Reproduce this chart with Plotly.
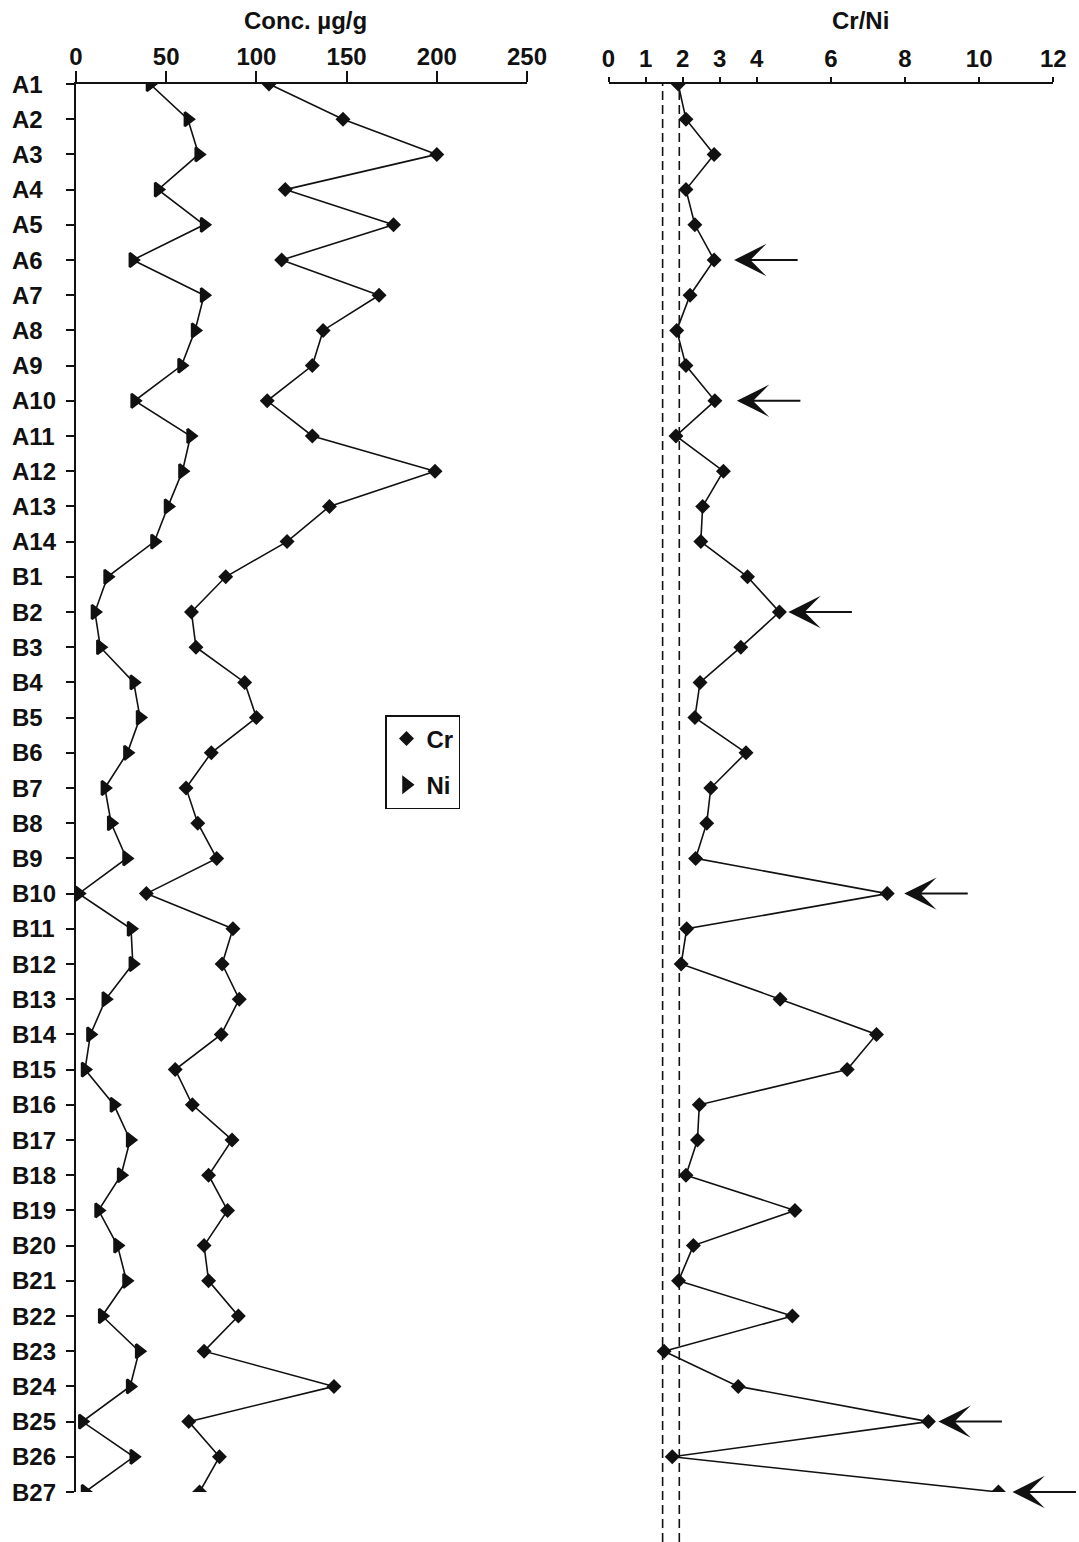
import plotly.graph_objects as go

# Sample codes, top to bottom
samples = [f"A{i}" for i in range(1, 15)] + [f"B{i}" for i in range(1, 28)]

# Chromium concentration (µg/g)
cr = [107, 148, 200, 116, 176, 114, 168, 137, 131, 106, 131, 199, 140.5, 117,
      83, 64, 66.5, 93.5, 100, 75, 61, 67.5, 78, 39, 87, 81, 90.5, 80.5,
      55, 64.5, 86.5, 73.5, 84, 71, 73.5, 90, 71, 143, 62.5, 79.5, 68.5]

# Nickel concentration (µg/g)
ni = [41, 62, 68, 45.5, 71, 31.5, 71, 66, 58.5, 32.5, 63.5, 59, 51, 43.5,
      17.5, 10.5, 13.5, 32, 35.5, 28.5, 16, 19.5, 28, 1.5, 30.5, 31.5, 16.5, 8,
      5, 21, 30, 25, 12.5, 23, 28, 14.5, 35, 30, 3.5, 32, 5]

# Cr/Ni ratio
ratio = [1.88, 2.09, 2.85, 2.09, 2.33, 2.85, 2.20, 1.84, 2.09, 2.87, 1.82, 3.10, 2.54, 2.49,
         3.75, 4.61, 3.57, 2.47, 2.33, 3.71, 2.76, 2.65, 2.35, 7.52, 2.11, 1.96, 4.63, 7.23,
         6.44, 2.45, 2.40, 2.09, 5.03, 2.29, 1.89, 4.96, 1.50, 3.50, 8.63, 1.72, 10.52]

# Reference band on the ratio panel
band = [1.46, 1.91]

# Samples flagged with an arrow (gap in px between point and arrow tip)
flagged = {"A6": 20, "A10": 22, "B2": 9, "B10": 17, "B25": 10, "B27": 14}

conc_ticks = [0, 50, 100, 150, 200, 250]
ratio_ticks = [0, 1, 2, 3, 4, 6, 8, 10, 12]

W, H = 1079, 1542
TOP, BOTTOM = 84, 50
FONT = "Liberation Sans"
INK = "#111111"
bold = dict(family=FONT, size=24, color=INK, weight="bold")

# Right-pointing triangle, thickened with an outline of the same colour
ni_marker = dict(symbol="triangle-right", size=12, color=INK,
                 line=dict(color=INK, width=2.5))

fig = go.Figure()

# Concentration panel: connecting lines, then markers
fig.add_trace(go.Scatter(x=cr, y=samples, mode="lines", line=dict(color=INK, width=1.6),
                         showlegend=False, xaxis="x", yaxis="y", hoverinfo="skip"))
fig.add_trace(go.Scatter(x=ni, y=samples, mode="lines", line=dict(color=INK, width=1.6),
                         showlegend=False, xaxis="x", yaxis="y", hoverinfo="skip"))
fig.add_trace(go.Scatter(x=cr, y=samples, mode="markers", name="Cr", legendgroup="cr",
                         marker=dict(symbol="diamond", size=11.5, color=INK),
                         xaxis="x", yaxis="y"))
fig.add_trace(go.Scatter(x=ni, y=samples, mode="markers", name="Ni", legendgroup="ni",
                         marker=ni_marker, xaxis="x", yaxis="y"))

# Ratio panel
fig.add_trace(go.Scatter(x=ratio, y=samples, mode="lines+markers",
                         line=dict(color=INK, width=1.6),
                         marker=dict(symbol="diamond", size=11.5, color=INK),
                         showlegend=False, xaxis="x2", yaxis="y2"))

plot_h = H - TOP - BOTTOM
for v in band:
    fig.add_shape(type="line", xref="x2", yref="paper", x0=v, x1=v,
                  y0=-BOTTOM / plot_h, y1=1,
                  line=dict(color=INK, width=1.6, dash="9px,5px"))

annotations = []
for name, gap in flagged.items():
    i = samples.index(name)
    annotations.append(dict(x=ratio[i], y=i, xref="x2", yref="y2", text="",
                            showarrow=True, arrowhead=3, arrowsize=2.7, arrowwidth=2,
                            arrowcolor=INK, ax=gap + 65, ay=0, standoff=gap))

# Sample labels, left-aligned beside the concentration axis
for i, name in enumerate(samples):
    annotations.append(dict(text=name, x=10 / W, y=i, xref="paper", yref="y",
                            xanchor="left", yanchor="middle", showarrow=False, font=bold))

title_y = 1 + (TOP - 20) / plot_h
annotations.append(dict(text="Conc. µg/g", x=305 / W, y=title_y, xref="paper", yref="paper",
                        xanchor="center", yanchor="middle", showarrow=False, font=bold))
annotations.append(dict(text="Cr/Ni", x=860 / W, y=title_y, xref="paper", yref="paper",
                        xanchor="center", yanchor="middle", showarrow=False, font=bold))

axis_common = dict(showgrid=False, zeroline=False, showline=True, linecolor=INK,
                   linewidth=2, ticks="outside", tickcolor=INK, tickwidth=2,
                   tickfont=bold, automargin=False)

fig.update_layout(
    width=W, height=H,
    margin=dict(l=0, r=0, t=TOP, b=BOTTOM, pad=0, autoexpand=False),
    paper_bgcolor="white", plot_bgcolor="white",
    xaxis=dict(domain=[76 / W, 527 / W], range=[0, 250], side="top", anchor="y",
               tickvals=conc_ticks, ticklen=11, ticklabelstandoff=-4, **axis_common),
    xaxis2=dict(domain=[608.5 / W, 1053.3 / W], range=[0, 12], side="top", anchor="y2",
                tickvals=ratio_ticks, ticklen=5, **axis_common),
    yaxis=dict(type="category", categoryorder="array", categoryarray=samples,
               range=[len(samples) - 1, 0], anchor="x", ticklen=8,
               showticklabels=False, **axis_common),
    yaxis2=dict(type="category", categoryorder="array", categoryarray=samples,
                range=[len(samples) - 1, 0], anchor="x2", matches="y", automargin=False,
                showline=False, showticklabels=False, ticks="", showgrid=False, zeroline=False),
    legend=dict(x=385 / W, y=(H - BOTTOM - 715) / plot_h, xanchor="left", yanchor="top",
                bordercolor=INK, borderwidth=1.5, bgcolor="white", tracegroupgap=12,
                font=bold, itemwidth=30),
    annotations=annotations,
    showlegend=True,
)

fig.write_html("out.html")
